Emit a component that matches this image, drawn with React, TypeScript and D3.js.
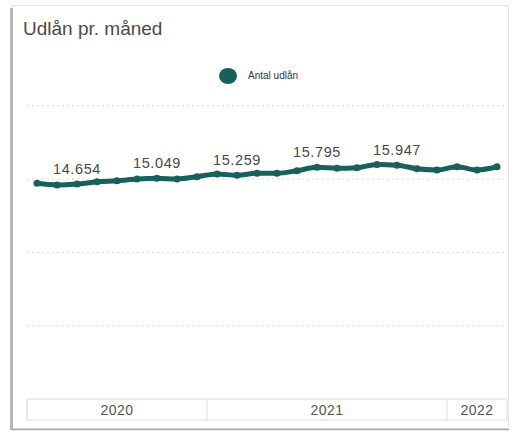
import React from 'react';
import * as d3 from 'd3';

// monthly loans, April 2020 - March 2022
const months = [
  '2020-04', '2020-05', '2020-06', '2020-07', '2020-08', '2020-09', '2020-10', '2020-11', '2020-12',
  '2021-01', '2021-02', '2021-03', '2021-04', '2021-05', '2021-06', '2021-07', '2021-08', '2021-09',
  '2021-10', '2021-11', '2021-12', '2022-01', '2022-02', '2022-03',
];
const loans = [
  14707, 14591, 14654, 14816, 14884, 15000, 15049, 15000, 15157,
  15341, 15259, 15389, 15390, 15566, 15795, 15730, 15771, 15990,
  15947, 15700, 15620, 15840, 15620, 15840,
];
const labeledMonths = ['2020-06', '2020-10', '2021-02', '2021-06', '2021-10'];
const years = ['2020', '2021', '2022'];
const yTicks = [0, 5000, 10000, 15000, 20000];

const W = 515;
const H = 434;
const left = 27;
const right = 507;
const top = 105.7;
const bottom = 399;
const teal = '#17605c';
const font = '"Liberation Sans", Arial, sans-serif';

const fmt = (v: number) => d3.format(',')(v).replace(/,/g, '.');

export default function App() {
  const x = d3.scaleBand<string>().domain(months).range([left, right]);
  const y = d3.scaleLinear().domain([0, 20000]).range([bottom, top]);
  const cx = (m: string) => (x(m) ?? 0) + x.bandwidth() / 2;

  const line = d3
    .line<number>()
    .x((_, i) => cx(months[i]))
    .y(d => y(d))
    .curve(d3.curveMonotoneX);

  const yearBands = years.map(yr => {
    const ms = months.filter(m => m.startsWith(yr));
    const x0 = x(ms[0]) ?? 0;
    const x1 = (x(ms[ms.length - 1]) ?? 0) + x.bandwidth();
    return { yr, x0, x1 };
  });

  return (
    <svg width={W} height={H} style={{ position: 'absolute', left: 0, top: 0 }}>
      <rect x={0} y={0} width={W} height={H} fill="#fff" />
      {/* card */}
      <rect x={11.5} y={5.5} width={497} height={423} fill="#fff" stroke="#e6e6e6" />
      <rect x={10} y={8} width={3} height={422} fill="#b5b5b5" />
      <line x1={11} x2={509} y1={429.5} y2={429.5} stroke="#a8a8a8" strokeWidth={1.5} />

      <text x={23} y={35} fontFamily={font} fontSize={19} fill="#4a4a4a">Udlån pr. måned</text>

      {/* legend */}
      <ellipse cx={228} cy={76} rx={9} ry={8} fill={teal} />
      <text x={248} y={79} fontFamily={font} fontSize={10} fill="#333">Antal udlån</text>

      {/* grid */}
      {yTicks.slice(1).map(t => (
        <line key={t} x1={left} x2={right} y1={y(t)} y2={y(t)}
          stroke="#d8d8d8" strokeWidth={1} strokeDasharray="2,3" />
      ))}

      {/* year band axis */}
      <rect x={left} y={bottom} width={right - left} height={21} fill="#fff" stroke="#dcdcdc" />
      {yearBands.map(b => (
        <g key={b.yr}>
          <line x1={b.x0} x2={b.x0} y1={bottom} y2={bottom + 21} stroke="#dcdcdc" />
          <text x={(b.x0 + b.x1) / 2} y={bottom + 15.5} textAnchor="middle"
            fontFamily={font} fontSize={14} fill="#555" letterSpacing={0.5}>{b.yr}</text>
        </g>
      ))}

      {/* series */}
      <path d={line(loans) ?? ''} fill="none" stroke={teal} strokeWidth={5}
        strokeLinejoin="round" strokeLinecap="round" />
      {loans.map((v, i) => (
        <circle key={months[i]} cx={cx(months[i])} cy={y(v)} r={3.5} fill={teal} />
      ))}
      {loans.map((v, i) =>
        labeledMonths.includes(months[i]) ? (
          <text key={'l' + months[i]} x={cx(months[i])} y={y(v) - 10} textAnchor="middle"
            fontFamily={font} fontSize={14.5} fill="#484848" letterSpacing={0.6}>{fmt(v)}</text>
        ) : null
      )}
    </svg>
  );
}
